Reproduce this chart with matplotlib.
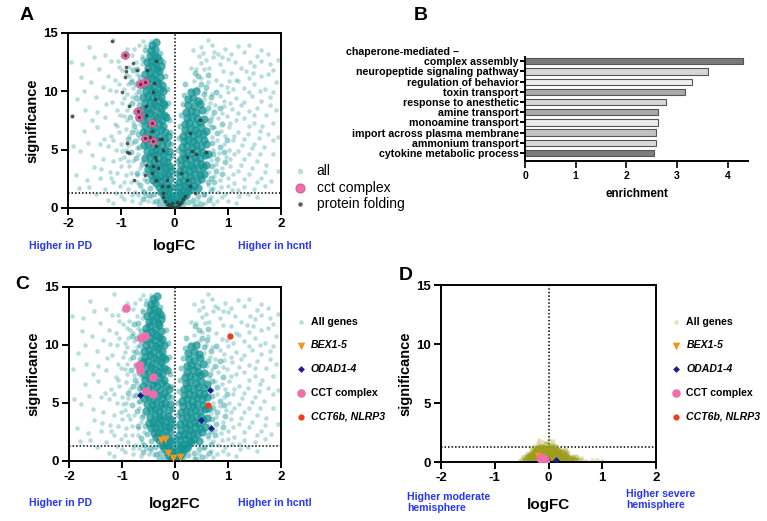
import matplotlib
matplotlib.use("Agg")
import matplotlib.pyplot as plt

plt.rcParams['font.family'] = ['Liberation Sans', 'DejaVu Sans']

# ---------------- data ----------------
# dense core of the "all genes" cloud (panels A and C)
core_left = [(-0.02,0.05),(-0.05,0.15),(-0.08,0.3),(-0.12,0.45),(-0.04,0.4),(-0.1,0.7),(-0.16,0.8),(-0.07,0.9),(-0.2,1.1),(-0.13,1.2),(-0.05,1.0),
    (-0.25,1.4),(-0.18,1.5),(-0.1,1.6),(-0.3,1.8),(-0.22,1.9),(-0.14,2.0),(-0.06,1.8),(-0.35,2.1),
    (-0.4,2.4),(-0.32,2.5),(-0.25,2.3),(-0.17,2.6),(-0.09,2.5),(-0.45,2.8),(-0.37,2.9),(-0.28,2.8),(-0.2,3.0),(-0.12,2.9),(-0.07,3.2),
    (-0.5,3.3),(-0.42,3.4),(-0.34,3.3),(-0.26,3.5),(-0.18,3.4),(-0.1,3.6),(-0.47,3.8),(-0.38,3.9),(-0.3,3.8),(-0.22,4.0),(-0.14,3.9),
    (-0.55,4.3),(-0.46,4.4),(-0.38,4.5),(-0.3,4.3),(-0.22,4.6),(-0.12,4.4),(-0.52,4.9),(-0.43,4.8),(-0.35,5.0),(-0.27,4.9),(-0.18,5.0),(-0.1,4.9),
    (-0.58,5.4),(-0.5,5.5),(-0.41,5.3),(-0.33,5.6),(-0.24,5.4),(-0.15,5.6),(-0.55,5.9),(-0.46,6.0),(-0.37,5.9),(-0.29,6.1),(-0.2,5.9),(-0.12,6.2),
    (-0.6,6.5),(-0.51,6.4),(-0.42,6.6),(-0.34,6.5),(-0.25,6.7),(-0.17,6.5),(-0.56,7.0),(-0.47,7.1),(-0.38,6.9),(-0.3,7.2),(-0.21,7.0),
    (-0.59,7.5),(-0.5,7.6),(-0.41,7.4),(-0.33,7.7),(-0.24,7.5),(-0.16,7.8),(-0.55,8.0),(-0.46,8.1),(-0.37,7.9),(-0.28,8.2),(-0.2,8.0),
    (-0.6,8.5),(-0.52,8.6),(-0.43,8.4),(-0.34,8.7),(-0.26,8.5),(-0.19,8.8),(-0.56,9.0),(-0.47,9.1),(-0.39,8.9),(-0.3,9.2),(-0.22,9.0),
    (-0.59,9.5),(-0.5,9.6),(-0.42,9.4),(-0.33,9.7),(-0.25,9.5),(-0.54,10.0),(-0.45,10.1),(-0.36,9.9),(-0.28,10.2),(-0.21,10.0),
    (-0.57,10.5),(-0.48,10.6),(-0.4,10.4),(-0.31,10.7),(-0.24,10.5),(-0.52,11.0),(-0.43,11.1),(-0.35,10.9),(-0.27,11.2),
    (-0.55,11.5),(-0.47,11.6),(-0.38,11.4),(-0.3,11.7),(-0.5,12.0),(-0.41,12.1),(-0.33,11.9),(-0.26,12.2),
    (-0.52,12.5),(-0.44,12.6),(-0.36,12.4),(-0.29,12.7),(-0.47,13.0),(-0.39,13.1),(-0.32,12.9),
    (-0.45,13.5),(-0.37,13.6),(-0.42,14.0),(-0.34,14.2)]
core_right = [(0.02,0.1),(0.05,0.3),(0.09,0.5),(0.04,0.6),(0.13,0.7),(0.08,0.9),(0.17,1.0),(0.12,1.2),(0.22,1.1),
    (0.06,1.4),(0.15,1.5),(0.24,1.4),(0.3,1.6),(0.09,1.8),(0.19,1.9),(0.28,1.8),(0.36,1.9),(0.45,1.7),
    (0.08,2.2),(0.16,2.3),(0.25,2.2),(0.33,2.4),(0.42,2.3),(0.5,2.5),(0.11,2.7),(0.2,2.8),(0.29,2.7),(0.38,2.9),(0.47,2.8),(0.56,2.9),
    (0.1,3.2),(0.18,3.3),(0.27,3.2),(0.35,3.4),(0.44,3.3),(0.53,3.5),(0.13,3.7),(0.22,3.8),(0.31,3.7),(0.4,3.9),(0.49,3.8),(0.6,3.7),
    (0.12,4.2),(0.2,4.3),(0.29,4.2),(0.38,4.4),(0.47,4.3),(0.57,4.5),(0.15,4.7),(0.24,4.8),(0.33,4.7),(0.42,4.9),(0.52,4.8),(0.63,4.6),
    (0.14,5.2),(0.23,5.3),(0.32,5.2),(0.41,5.4),(0.5,5.3),(0.6,5.5),(0.17,5.7),(0.26,5.8),(0.35,5.7),(0.45,5.9),(0.55,5.8),
    (0.16,6.2),(0.25,6.3),(0.34,6.2),(0.44,6.4),(0.54,6.3),(0.2,6.7),(0.29,6.8),(0.39,6.7),(0.49,6.9),(0.6,6.6),
    (0.19,7.2),(0.28,7.3),(0.38,7.2),(0.48,7.4),(0.23,7.7),(0.33,7.8),(0.43,7.7),(0.55,7.6),
    (0.22,8.2),(0.31,8.3),(0.41,8.2),(0.52,8.4),(0.26,8.8),(0.36,8.7),(0.47,8.9),
    (0.25,9.3),(0.35,9.4),(0.45,9.2),(0.3,9.9),(0.4,10.0)]
# medium-density halo around the core
halo_left = [(-0.65,2.0),(-0.7,3.0),(-0.62,3.8),(-0.72,4.3),(-0.66,5.2),(-0.74,5.7),(-0.68,6.3),(-0.76,7.0),(-0.68,7.6),(-0.74,8.2),
    (-0.67,8.8),(-0.73,9.4),(-0.66,10.0),(-0.72,10.6),(-0.64,11.2),(-0.7,11.9),(-0.6,12.8),(-0.55,13.5),(-0.28,13.3),(-0.22,12.5),
    (-0.17,11.3),(-0.14,10.2),(-0.12,9.0),(-0.1,7.5),(-0.08,6.5),(-0.06,5.5),(-0.05,4.5),(-0.04,3.5),(-0.56,3.0),(-0.52,2.3),(-0.46,1.7),
    (-0.38,1.2),(-0.28,0.7),(-0.2,0.35),(-0.48,1.1),(-0.35,0.6),(-0.82,4.8),(-0.8,6.5),(-0.84,7.8),(-0.8,9.0),(-0.82,10.8),(-0.78,11.8),
    (-0.88,5.9),(-0.58,1.4),(-0.6,0.8),(-0.3,0.25)]
halo_right = [(0.68,1.5),(0.75,2.2),(0.68,2.6),(0.78,3.2),(0.7,3.6),(0.8,4.2),(0.72,4.6),(0.85,5.2),(0.7,5.6),(0.8,6.4),(0.7,6.9),
    (0.66,7.5),(0.75,8.2),(0.63,8.6),(0.68,9.5),(0.55,9.8),(0.6,10.4),(0.5,10.6),(0.45,11.3),(0.38,11.6),(0.2,10.6),(0.18,9.7),(0.15,8.9),
    (0.12,8.0),(0.1,7.0),(0.08,6.0),(0.06,5.0),(0.05,4.0),(0.04,3.0),(0.03,2.0),(0.55,1.2),(0.45,1.0),(0.35,0.7),(0.25,0.5),(0.15,0.3),
    (0.62,2.2),(0.9,2.9),(0.95,3.9),(0.92,4.8),(0.98,5.8),(0.9,7.2),(0.85,8.6),(0.78,9.9),(0.62,11.4),(0.5,0.35),(0.65,0.7),(0.4,0.2)]
# sparse outer points of the "all genes" cloud
sparse_left = [(-1.94,12.5),(-1.74,12.3),(-1.57,10.8),(-1.84,9.3),(-1.68,8.4),(-1.92,7.9),(-1.16,14.4),(-1.19,12.6),(-1.07,12.6),(-1.18,9.1),
    (-1.08,8.4),(-1.78,4.9),(-1.62,5.6),(-1.45,6.9),(-1.3,7.8),(-1.52,3.5),(-1.35,4.2),(-1.25,5.3),(-1.4,2.6),(-1.22,3.1),(-1.15,2.2),
    (-1.05,6.5),(-1.12,7.2),(-0.98,9.0),(-1.0,3.6),(-0.95,4.4),(-0.92,2.8),(-0.88,1.6),(-1.02,1.9),(-0.85,6.2),(-0.9,7.5),(-0.8,9.5),
    (-0.86,12.1),(-0.8,13.1),(-0.72,12.5),(-0.99,11.8),(-0.91,11.5),(-0.8,11.0),(-1.05,10.6),(-0.94,10.2),(-0.66,14.0),(-0.55,13.9),
    (-0.6,14.35),(-0.45,14.3),(-0.5,13.4),(-0.75,8.4),(-0.7,5.1),(-0.78,4.0),(-0.82,3.0),(-0.7,2.2),(-0.75,1.4),(-0.62,1.6),(-0.58,2.5),
    (-0.65,3.4),(-0.72,6.7),(-0.64,7.2),(-0.78,10.3),(-0.7,11.5),(-0.62,12.3),(-0.66,9.2),(-1.3,1.6),(-1.6,1.8),(-1.1,1.3),(-0.95,0.8),
    (-1.85,2.8),(-1.48,9.5),(-1.35,10.4),(-1.25,11.3),(-1.52,12.9),(-1.7,6.6),(-1.9,5.3),(-1.45,8.2),(-1.2,6.2),(-1.1,5.0),(-1.32,5.9),
    (-0.88,5.4),(-0.98,4.9),(-0.85,3.6),(-0.92,6.8),(-0.85,8.8),(-0.72,9.8),(-0.68,10.9),(-0.76,13.6),(-0.62,13.0),(-0.68,4.6),(-0.6,4.0),
    (-0.66,6.0),(-0.63,8.0),(-0.55,1.0),(-0.8,0.6),(-0.65,0.4),(-0.45,0.9),(-0.4,0.5),(-1.0,1.0),(-1.25,0.7),(-0.7,2.8),(-0.9,9.8),
    (-1.02,8.0),(-1.15,4.0),(-1.1,10.0),
    (-1.75,11.2),(-1.6,13.8),(-1.42,11.9),(-1.3,13.1),(-1.38,3.3),(-1.55,4.5),(-1.65,2.4),(-1.8,1.7),(-1.48,1.2),(-1.2,2.6),(-1.28,8.9),
    (-1.12,11.0),(-1.22,10.1),(-0.9,13.6),(-0.98,13.0),(-1.05,12.1),(-0.95,2.2),(-1.08,3.0),(-1.02,4.2),(-1.15,5.8),(-1.0,5.5),(-1.08,7.0),
    (-0.95,7.9),(-0.9,8.4),(-0.95,9.4),(-0.88,10.6),(-0.85,11.3),(-0.82,2.2),(-0.88,4.0),(-0.92,5.0),(-0.8,5.6),(-0.78,7.4),(-0.8,1.1),
    (-0.68,1.1),(-1.15,0.4),(-0.5,0.6),(-1.7,10.0),(-1.55,7.5),(-1.4,5.5)]
sparse_right = [(0.62,14.4),(1.19,13.9),(1.63,13.5),(0.53,13.3),(0.75,13.4),(0.81,13.2),(0.46,13.0),(0.59,12.7),(0.72,12.9),(1.06,13.2),
    (1.13,12.5),(1.41,12.5),(1.63,12.6),(1.79,12.3),(0.40,11.9),(0.56,11.9),(0.65,12.0),(0.91,11.7),(1.06,11.6),(1.35,11.7),(1.47,11.6),
    (1.63,11.3),(1.75,11.5),(1.85,11.8),(1.95,12.7),(1.4,14.0),(0.95,13.6),(0.36,10.9),(0.5,11.1),(0.62,10.8),(0.78,11.0),(0.88,10.5),
    (1.2,10.9),(1.3,10.3),(1.5,10.6),(1.7,10.2),(1.9,10.8),(0.45,10.3),(0.58,10.0),(0.7,9.8),(0.85,9.6),(1.0,9.9),(1.15,9.4),(1.45,9.6),
    (1.62,9.2),(1.8,9.5),(0.55,9.3),(0.66,9.0),(0.76,8.8),(0.93,8.7),(1.08,8.5),(1.25,8.8),(1.4,8.3),(1.55,8.6),(1.72,8.0),(1.9,8.4),
    (0.6,8.2),(0.7,7.9),(0.82,7.7),(0.98,7.9),(1.15,7.5),(1.3,7.7),(1.5,7.3),(1.65,7.0),(1.85,7.3),(0.65,7.2),(0.75,6.9),(0.88,6.6),
    (1.02,6.9),(1.2,6.5),(1.38,6.3),(1.58,6.0),(1.75,6.3),(1.95,6.1),(0.7,6.1),(0.8,5.8),(0.92,5.5),(1.1,5.8),(1.27,5.4),(1.45,5.1),
    (1.68,5.2),(1.85,4.6),(0.72,5.0),(0.84,4.7),(0.96,4.4),(1.12,4.6),(1.3,4.2),(1.55,4.0),(1.72,3.7),(1.95,3.2),(0.68,4.1),(0.78,3.8),
    (0.9,3.4),(1.05,3.6),(1.2,3.2),(1.4,2.9),(1.62,2.6),(1.82,2.3),(0.65,3.1),(0.75,2.7),(0.86,2.4),(1.0,2.6),(1.12,2.1),(1.3,1.8),
    (1.5,1.6),(0.62,2.0),(0.72,1.7),(0.82,1.4),(0.95,1.2),(1.08,1.5),(1.22,1.0),(0.55,1.1),(0.68,0.9),(0.8,0.6),(0.45,0.6),(0.58,0.4),
    (0.35,0.3),(0.9,0.9),(1.38,1.2),(1.02,10.9),(0.5,12.4),(0.85,12.3),(0.3,12.0),(0.35,13.5),(1.25,12.0),(1.55,13.0),(1.0,12.8),
    (0.5,13.8),(0.7,14.0),(0.9,12.9),(1.3,13.4),(1.75,13.2),(1.5,12.2),(1.15,11.0),(1.4,11.1),(0.98,10.4),(1.1,10.2),(1.4,9.9),(1.6,10.0),
    (1.85,9.9),(0.92,9.2),(1.05,9.0),(1.3,9.1),(1.2,8.1),(1.5,8.0),(1.8,8.8),(0.9,8.1),(1.05,7.3),(1.4,7.0),(1.6,6.6),(1.85,5.8),
    (0.95,6.2),(1.12,6.2),(1.3,5.9),(1.5,5.5),(1.6,4.6),(1.02,5.0),(1.2,4.9),(1.4,4.6),(1.05,4.2),(1.25,3.7),(1.45,3.4),(1.7,3.1),
    (1.1,2.9),(1.3,2.5),(1.55,2.2),(1.0,1.9),(1.2,1.5),(1.7,1.9),(0.88,1.8),(1.0,0.6),(1.15,0.4),(0.72,0.35),(1.55,0.9)]

# highlighted genes, panels A / C
cct_x = [-0.93, -0.64, -0.56, -0.68, -0.67, -0.42, -0.55, -0.41]
cct_y = [13.15, 10.6, 10.8, 8.3, 7.8, 7.25, 6.0, 5.75]
folding = [(-1.17,14.3),(-0.78,12.4),(-0.92,12.1),(-0.92,11.7),(-0.93,11.2),(-0.70,11.8),(-0.52,11.8),(-0.34,12.6),(-0.39,10.7),
    (-0.40,9.9),(-0.98,9.9),(-0.85,8.7),(-1.92,7.9),(-0.37,9.3),(-0.53,8.7),(-0.54,8.0),(0.48,7.5),(-0.90,5.6),(-0.90,4.8),(-0.85,4.7),
    (-0.28,5.9),(-0.34,5.3),(-0.21,5.0),(-0.37,4.4),(-0.53,3.7),(-0.76,2.4),(-0.55,2.8),(0.29,6.4),(0.32,4.9),(0.40,4.6),(0.60,4.8),
    (0.23,4.4),(0.13,3.0),(0.23,2.4),(0.29,1.9),(0.38,1.3),(-0.15,2.4),(-0.12,1.9),(-0.43,6.6),(-0.46,6.1),(-0.24,5.9),(-0.34,4.1),
    (-0.40,3.6),(-0.31,3.4),(-0.43,3.0),(-0.34,2.4),(-0.24,1.9),(-0.21,1.3),(-0.18,0.6),(-0.12,0.3),(-0.08,0.15),(-0.03,0.05),(0.0,0.02),
    (0.04,0.1),(0.08,0.3),(0.12,0.5),(0.16,0.8),(-0.22,0.9),(0.2,1.0),(-0.05,0.4),(0.05,0.5),(-0.93,13.15),(-0.64,10.6),(-0.56,10.8),
    (-0.68,8.3),(-0.67,7.8),(-0.42,7.25),(-0.55,6.0),(-0.41,5.75)]
bex_x = [-0.26, -0.18, -0.13, -0.04, 0.10]
bex_y = [1.8, 1.9, 0.7, 0.25, 0.37]
odad_x = [-0.66, 0.66, 0.49, 0.68]
odad_y = [5.7, 6.1, 3.5, 2.8]
red_x = [1.03, 0.63]
red_y = [10.8, 4.8]

# panel D
d_core = [(-0.42,0.05),(-0.35,0.12),(-0.28,0.08),(-0.2,0.15),(-0.12,0.05),(-0.05,0.12),(0.03,0.08),(0.1,0.15),(0.18,0.06),(0.25,0.12),
    (0.32,0.05),(0.4,0.1),(0.48,0.06),(-0.38,0.3),(-0.3,0.35),(-0.22,0.28),(-0.14,0.38),(-0.06,0.3),(0.02,0.36),(0.1,0.27),(0.17,0.38),
    (0.24,0.3),(0.31,0.35),(0.4,0.28),(-0.33,0.5),(-0.25,0.56),(-0.17,0.48),(-0.09,0.58),(-0.01,0.5),(0.07,0.56),(0.15,0.47),(0.22,0.55),
    (0.3,0.5),(-0.28,0.7),(-0.2,0.76),(-0.12,0.68),(-0.04,0.78),(0.04,0.7),(0.12,0.75),(0.2,0.68),(0.26,0.74),(-0.24,0.9),(-0.16,0.96),
    (-0.08,0.88),(0.0,0.95),(0.08,0.9),(0.16,0.94),(-0.2,1.1),(-0.12,1.15),(-0.04,1.08),(0.04,1.2),(0.1,1.1)]
d_halo = [(-0.15,1.4),(-0.05,1.5),(0.05,1.45),(-0.25,1.3),(0.12,1.35),(-0.3,1.1),(0.2,1.0),(0.35,0.8),(0.45,0.4),(-0.45,0.4),
    (-0.38,0.7),(0.52,0.45),(0.3,1.05),(0.55,0.2),(-0.5,0.15)]
d_sparse = [(-0.1,1.7),(0.0,1.9),(-0.2,1.6),(0.62,0.15),(0.7,0.1),(0.8,0.2),(0.9,0.15),(1.0,0.1),(0.6,0.35),(-0.55,0.05),
    (-0.02,1.65),(0.08,1.75),(-0.18,1.85)]
d_bex_x = [-0.2, -0.17, -0.14, -0.12, -0.1]
d_bex_y = [0.5, 0.4, 0.35, 0.3, 0.2]
d_odad_x = [0.14, -0.06, -0.02, -0.08]
d_odad_y = [0.2, 0.1, 0.15, 0.05]
d_cct_x = [-0.15, -0.13, -0.11, -0.09, -0.07, -0.06, -0.12, -0.1]
d_cct_y = [0.35, 0.28, 0.22, 0.15, 0.12, 0.08, 0.18, 0.3]
d_red_x = [-0.08, -0.05]
d_red_y = [0.12, 0.06]

# panel B
go_terms = ["complex assembly", "neuropeptide signaling pathway", "regulation of behavior", "toxin transport",
            "response to anesthetic", "amine transport", "monoamine transport", "import across plasma membrane",
            "ammonium transport", "cytokine metabolic process"]
enrichment = [4.30, 3.62, 3.29, 3.15, 2.78, 2.62, 2.62, 2.58, 2.58, 2.54]
bar_greys = ["#7a7a7a", "#d6d6d6", "#eeeeee", "#a9a9a9", "#d8d8d8", "#aaaaaa", "#ebebeb", "#c2c2c2", "#dadada", "#7d7d7d"]

def xy(pairs):
    return [p[0] for p in pairs], [p[1] for p in pairs]

TEAL = "#139393"
OLIVE = "#9c9c1e"
BLUE_TXT = "#2636f5"
FS_TICK = 9.5

fig = plt.figure(figsize=(7.67, 5.21), dpi=100)

def style_volcano(ax):
    ax.set_xlim(-2, 2)
    ax.set_ylim(0, 15)
    ax.set_xticks([-2, -1, 0, 1, 2])
    ax.set_yticks([0, 5, 10, 15])
    ax.set_xticklabels(["-2", "-1", "0", "1", "2"])
    ax.axvline(0, color="black", lw=1.1, ls=(0, (1, 1.3)), zorder=1)
    ax.axhline(1.3, color="black", lw=1.1, ls=(0, (1, 1.3)), zorder=1)
    for s in ax.spines.values():
        s.set_linewidth(1.4)
    ax.tick_params(width=1.4, length=5, labelsize=FS_TICK, pad=2)
    for lab in ax.get_xticklabels() + ax.get_yticklabels():
        lab.set_fontweight("bold")
    ax.set_ylabel("significance", fontsize=10.5, fontweight="bold", labelpad=3)

def cloud(ax, core, halo, sparse, color, order=2):
    cx, cy = xy(core)
    hx, hy = xy(halo)
    sx, sy = xy(sparse)
    ax.scatter(cx, cy, s=36, color=color, alpha=0.75, lw=0, zorder=order)
    ax.scatter(hx, hy, s=18, color=color, alpha=0.45, lw=0, zorder=order)
    h = ax.scatter(sx, sy, s=11, color=color, alpha=0.3, lw=0, zorder=order)
    return h

# ---------------- panel A ----------------
axA = fig.add_axes([0.0887, 0.6008, 0.2777, 0.3359])
hA_all = cloud(axA, core_left + core_right, halo_left + halo_right, sparse_left + sparse_right, TEAL)
hA_cct = axA.scatter(cct_x, cct_y, s=30, color="#f06ea9", edgecolor="#c84b88", lw=0.6, zorder=4)
fx, fy = xy(folding)
hA_fold = axA.scatter(fx, fy, s=7, color="#333333", alpha=0.8, lw=0, zorder=5)
style_volcano(axA)
axA.set_xlabel("logFC", fontsize=11, fontweight="bold", labelpad=7)
legA = axA.legend([hA_all, hA_cct, hA_fold], ["all", "cct complex", "protein folding"],
                  loc="upper left", bbox_to_anchor=(0.382, 0.685), bbox_transform=fig.transFigure,
                  frameon=False, fontsize=10, handlelength=1.0, handletextpad=0.7, labelspacing=0.18,
                  borderpad=0, borderaxespad=0, markerscale=1.2)
fig.text(0.079, 0.527, "Higher in PD", color=BLUE_TXT, fontsize=7.6, fontweight="bold", ha="center", va="center")
fig.text(0.358, 0.527, "Higher in hcntl", color=BLUE_TXT, fontsize=7.6, fontweight="bold", ha="center", va="center")

# ---------------- panel B ----------------
axB = fig.add_axes([0.6845, 0.691, 0.2907, 0.1996])
pos = list(range(len(go_terms)))
axB.barh(pos, enrichment, height=0.62, color=bar_greys, edgecolor="#555555", lw=0.8)
axB.set_ylim(len(go_terms) - 1 + 0.78, -0.42)
axB.set_xlim(0, 4.4)
axB.set_xticks([0, 1, 2, 3, 4])
axB.set_yticks(pos)
axB.set_yticklabels(go_terms, fontsize=7.7, fontweight="bold")
for lab in axB.get_xticklabels():
    lab.set_fontweight("bold")
axB.tick_params(axis="x", labelsize=7.5, width=1.2, length=5, pad=2)
axB.tick_params(axis="y", width=1.4, length=3.5, pad=1)
axB.spines["top"].set_visible(False)
axB.spines["right"].set_visible(False)
axB.spines["left"].set_linewidth(1.4)
axB.spines["bottom"].set_linewidth(1.4)
axB.set_xlabel("enrichment", fontsize=8.4, fontweight="bold", labelpad=5)
fig.text(0.451, 0.9, "chaperone-mediated \u2013", fontsize=7.7, fontweight="bold", ha="left", va="center")

# ---------------- panel C ----------------
axC = fig.add_axes([0.09, 0.1152, 0.2764, 0.334])
hC_all = cloud(axC, core_left + core_right, halo_left + halo_right, sparse_left + sparse_right, TEAL)
hC_bex = axC.scatter(bex_x, bex_y, s=30, marker="v", color="#f7941d", lw=0, zorder=5)
hC_odad = axC.scatter(odad_x, odad_y, s=12, marker="D", color="#1a1a8f", lw=0, zorder=5)
hC_cct = axC.scatter(cct_x, cct_y, s=38, color="#ee6eaa", lw=0, zorder=5)
hC_red = axC.scatter(red_x, red_y, s=20, color="#f23a1c", lw=0, zorder=5)
style_volcano(axC)
axC.set_xlabel("log2FC", fontsize=11, fontweight="bold", labelpad=10)
legC_labels = ["All genes", "BEX1-5", "ODAD1-4", "CCT complex", "CCT6b, NLRP3"]
legC = axC.legend([hC_all, hC_bex, hC_odad, hC_cct, hC_red], legC_labels,
                  loc="upper left", bbox_to_anchor=(0.385, 0.392), bbox_transform=fig.transFigure,
                  frameon=False, prop={"size": 7.6, "weight": "bold"}, handlelength=1.0, handletextpad=0.45,
                  labelspacing=1.3, borderpad=0, borderaxespad=0)
for i in (1, 2, 4):
    legC.get_texts()[i].set_style("italic")
fig.text(0.079, 0.035, "Higher in PD", color=BLUE_TXT, fontsize=7.6, fontweight="bold", ha="center", va="center")
fig.text(0.358, 0.035, "Higher in hcntl", color=BLUE_TXT, fontsize=7.6, fontweight="bold", ha="center", va="center")

# ---------------- panel D ----------------
axD = fig.add_axes([0.575, 0.1132, 0.2803, 0.3397])
hD_all = cloud(axD, d_core, d_halo, d_sparse, OLIVE)
hD_bex = axD.scatter(d_bex_x, d_bex_y, s=30, marker="v", color="#f7941d", lw=0, zorder=5)
hD_odad = axD.scatter(d_odad_x, d_odad_y, s=12, marker="D", color="#1a1a8f", lw=0, zorder=5)
hD_red = axD.scatter(d_red_x, d_red_y, s=20, color="#f23a1c", lw=0, zorder=5)
hD_cct = axD.scatter(d_cct_x, d_cct_y, s=38, color="#ee6eaa", lw=0, zorder=6)
style_volcano(axD)
axD.set_xlabel("logFC", fontsize=11, fontweight="bold", labelpad=10)
legD = axD.legend([hD_all, hD_bex, hD_odad, hD_cct, hD_red], legC_labels,
                  loc="upper left", bbox_to_anchor=(0.875, 0.392), bbox_transform=fig.transFigure,
                  frameon=False, prop={"size": 7.6, "weight": "bold"}, handlelength=1.0, handletextpad=0.45,
                  labelspacing=1.3, borderpad=0, borderaxespad=0)
for i in (1, 2, 4):
    legD.get_texts()[i].set_style("italic")
fig.text(0.531, 0.035, "Higher moderate\nhemisphere", color=BLUE_TXT, fontsize=7.6, fontweight="bold",
         ha="left", va="center", linespacing=1.15)
fig.text(0.816, 0.042, "Higher severe\nhemisphere", color=BLUE_TXT, fontsize=7.6, fontweight="bold",
         ha="left", va="center", linespacing=1.15)

# panel letters
for letter, (x, y) in {"A": (0.026, 0.971), "B": (0.54, 0.971), "C": (0.02, 0.453), "D": (0.52, 0.471)}.items():
    fig.text(x, y, letter, fontsize=14, fontweight="bold", ha="left", va="center")

fig.savefig("out.png", dpi=100)
